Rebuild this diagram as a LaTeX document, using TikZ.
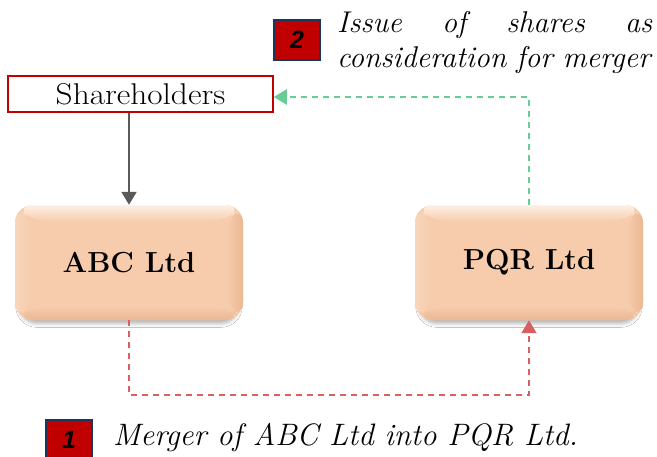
\documentclass[tikz,border=0pt]{standalone}
\usepackage{fontspec}
\newfontfamily\numfont{Liberation Sans}
\newfontfamily\widefont[FakeStretch=1.11]{Latin Modern Roman}
\usetikzlibrary{shadows.blur,arrows.meta,calc}

\definecolor{peach}{RGB}{246,204,172}
\definecolor{peachlight}{RGB}{254,240,228}
\definecolor{peachside}{RGB}{249,214,188}
\definecolor{peachdark}{RGB}{235,184,148}
\definecolor{boxred}{RGB}{192,0,0}
\definecolor{badgeedge}{RGB}{23,55,94}
\definecolor{flowred}{RGB}{217,96,96}
\definecolor{flowgreen}{RGB}{104,204,150}
\definecolor{flowgrey}{RGB}{89,89,89}

% bevelled faces of a company box, clipped to its rounded outline
\newcommand{\bevelfaces}{%
  \coordinate (bnw) at (path picture bounding box.north west);
  \coordinate (bne) at (path picture bounding box.north east);
  \coordinate (bsw) at (path picture bounding box.south west);
  \coordinate (bse) at (path picture bounding box.south east);
  \coordinate (inw) at ($(bnw)+(17,17)$);
  \coordinate (ine) at ($(bne)+(-17,17)$);
  \coordinate (isw) at ($(bsw)+(17,-14)$);
  \coordinate (ise) at ($(bse)+(-17,-14)$);
  \shade[left color=peachside, right color=peach] (bnw) -- (inw) -- (isw) -- (bsw) -- cycle;
  \shade[left color=peach, right color=peachdark] (bne) -- (ine) -- (ise) -- (bse) -- cycle;
  \shade[top color=peach, bottom color=peachdark] (bsw) -- (isw) -- (ise) -- (bse) -- cycle;
  \shade[top color=peachlight, bottom color=peach] (bnw) -- (bne) -- (ine) -- (inw) -- cycle;
}

\begin{document}
\begin{tikzpicture}[x=1pt,y=-1pt,
  company/.style={minimum width=228pt, minimum height=115pt, inner sep=0pt,
    rounded corners=18pt, fill=peach,
    blur shadow={shadow xshift=0pt, shadow yshift=-6pt, shadow scale=0.96,
      shadow blur radius=4pt, shadow opacity=30},
    path picture={\bevelfaces},
    font=\fontsize{29}{34}\selectfont\bfseries},
  holder/.style={draw=boxred, line width=1.5pt, fill=white, minimum width=265pt,
    minimum height=36pt, inner sep=0pt, font=\widefont\fontsize{30}{34}\selectfont},
  badge/.style={draw=badgeedge, line width=2pt, fill=boxred, minimum width=46pt,
    minimum height=40pt, inner sep=0pt, font=\numfont\bfseries\itshape\fontsize{25}{28}\selectfont},
  note/.style={inner sep=0pt, font=\itshape\fontsize{30}{35}\selectfont},
  flow/.style={line width=2pt, dash pattern=on 6pt off 5pt, -{Triangle[length=13pt,width=15pt]}},
  feed/.style={line width=2pt, draw=flowgrey, -{Triangle[length=13pt,width=15pt,fill=flowgrey]}}]

\clip (0,0) rectangle (657,456);
\fill[white] (0,0) rectangle (657,456);

% parties
\node[holder] (share) at (140.5,94) {Shareholders};
\node[company] (abc) at (129,262.5) {ABC Ltd};
\node[company] (pqr) at (529,262.5) {PQR Ltd};

% step badges and their captions
\node[badge] (b2) at (297,40) {2};
\node[note, anchor=base west, text width=315pt, align=left] (t2) at (337,32)
  {\hbox to 315pt{Issue\hfill of\hfill shares\hfill as}\\consideration for merger};
\node[badge] (b1) at (69,440) {1};
\node[note, anchor=base west, font=\itshape\fontsize{31}{35}\selectfont] (t1) at (113,445)
  {Merger of ABC Ltd into PQR Ltd.};

% flows
\coordinate (low) at (0,395);
\draw[feed] (share.south -| abc.north) -- (abc.north);
\draw[flow, draw=flowred] (abc.south) |- (low -| pqr.south) -- (pqr.south);
\draw[flow, draw=flowgreen] (pqr.north) |- ([yshift=-3pt]share.east);
\end{tikzpicture}
\end{document}
